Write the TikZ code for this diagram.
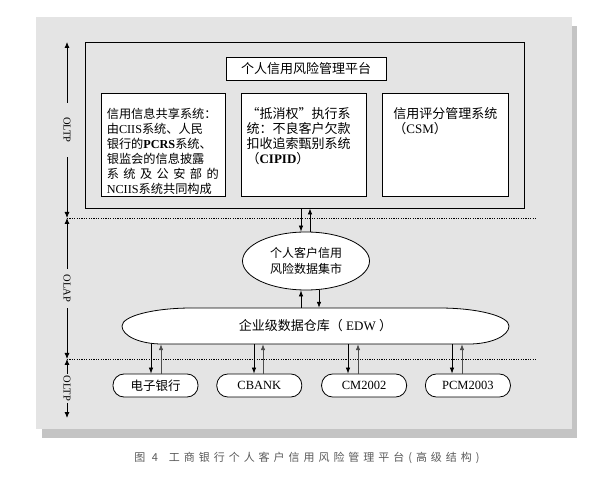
\documentclass[tikz,border=0pt]{standalone}
\usepackage{fontspec}
\setmainfont{Liberation Serif}
\newfontfamily\cjk{Noto Sans CJK SC}
\newfontfamily\capfont[LetterSpace=36]{Noto Sans CJK SC}
\newcommand{\zh}[1]{{\cjk #1}}
\usetikzlibrary{arrows.meta,positioning,shapes.geometric,calc}
\definecolor{panelgray}{HTML}{E4E4E4}
\definecolor{shadowgray}{HTML}{C4C4C4}

\begin{document}
\begin{tikzpicture}[x=1pt,y=1pt,
  font=\fontsize{13}{15}\selectfont,
  platbox/.style={draw,line width=0.9pt,minimum width=439pt,minimum height=166pt,inner sep=0pt},
  titlebox/.style={draw,fill=white,line width=0.8pt,minimum width=160pt,minimum height=23pt,inner sep=0pt},
  sysbox/.style={draw,fill=white,line width=0.8pt,minimum width=125pt,minimum height=103pt,inner sep=0pt},
  systext/.style={anchor=north west,align=left,inner sep=0pt},
  mart/.style={draw,fill=white,ellipse,line width=0.8pt,minimum width=127pt,minimum height=58pt,
               inner sep=0pt,align=center,font=\fontsize{12}{16}\selectfont},
  srcbox/.style={draw,fill=white,rounded corners=11pt,line width=0.8pt,minimum width=85pt,
                 minimum height=23pt,inner sep=0pt,font=\fontsize{12.5}{14}\selectfont},
  arr/.style={-{Latex[length=6pt,width=4.5pt]},line width=0.7pt},
  uparr/.style={arr,black!70},
  axarr/.style={{Latex[length=6pt,width=5pt]}-{Latex[length=6pt,width=5pt]},line width=0.8pt},
  axlabel/.style={fill=panelgray,rotate=-90,inner sep=2pt,font=\fontsize{10.5}{12}\selectfont},
  sep/.style={line width=0.6pt,dash pattern=on 1.2pt off 1.2pt},
]
\useasboundingbox (0,0) rectangle (591,479);

%% ===== Panel with shadow =====================================================
\fill[shadowgray] (42,41) rectangle (577,453);
\fill[panelgray] (36,50) rectangle (572,462);

%% ===== OLTP platform =========================================================
\node[platbox] (plat) at (304.5,354) {};
\node[titlebox] (title) at (306,410.5) {\zh{个人信用风险管理平台}};

\node[sysbox,minimum width=124pt] (share) at (163,334.5) {};
\node[sysbox,right=16pt of share] (cipid) {};
\node[sysbox,minimum width=126pt,right=15pt of cipid] (csm) {};

\node[systext,text width=112pt,font=\fontsize{12.2}{15}\selectfont] (share-t)
  at ([shift={(6,-15)}]share.north west) {%
  \zh{信用信息共享系统：}\\
  \zh{由}CIIS\zh{系统、人民}\\
  \zh{银行的}\textbf{PCRS}\zh{系统、}\\
  \zh{银监会的信息披露}\\
  \zh{系\hfill 统\hfill 及\hfill 公\hfill 安\hfill 部\hfill 的}\\
  NCIIS\zh{系统共同构成}};
\node[systext,text width=112pt] (cipid-t) at ([shift={(5,-15)}]cipid.north west) {%
  \zh{“抵消权”执行系}\\
  \zh{统：不良客户欠款}\\
  \zh{扣收追索甄别系统}\\
  \zh{（}\textbf{CIPID}\zh{）}};
\node[systext,text width=112pt] (csm-t) at ([shift={(11,-15)}]csm.north west) {%
  \zh{信用评分管理系统}\\
  \zh{（}CSM\zh{）}};

%% ===== Layer axis ============================================================
\coordinate (ax-top) at (67,437);
\coordinate (ax-olap) at (67,261);
\coordinate (ax-oltp) at (67,120);
\coordinate (ax-bot) at (67,61);
\coordinate (sep1-end) at (537,261);
\coordinate (sep2-end) at (537,120);

\draw[sep] (ax-olap) -- (sep1-end);
\draw[sep] (ax-oltp) -- (sep2-end);

\draw[axarr] (ax-top) -- node[axlabel,inner xsep=14pt]{OLTP} (ax-olap);
\draw[axarr] (ax-olap) -- node[axlabel,inner xsep=6pt]{OLAP} (ax-oltp);
\draw[axarr] (ax-oltp) -- node[axlabel,inner xsep=1.5pt]{OLTP} (ax-bot);

%% ===== Data mart and EDW =====================================================
\node[mart] (mart) at (306,218) {\zh{个人客户信用}\\\zh{风险数据集市}};

\draw[fill=white,line width=0.8pt] (192,171) -- (439,171)
  arc[start angle=90,end angle=0,x radius=70,y radius=18]
  arc[start angle=0,end angle=-90,x radius=40,y radius=18]
  -- (162,135)
  arc[start angle=270,end angle=180,x radius=40,y radius=18]
  arc[start angle=180,end angle=90,x radius=70,y radius=18] -- cycle;
\node[minimum width=387pt,minimum height=36pt,inner sep=0pt] (edw) at (315.5,153)
  {\zh{企业级数据仓库（} EDW \zh{）}};

%% ===== OLTP sources ==========================================================
\node[srcbox] (ebank) at (155.5,93.5) {\zh{电子银行}};
\node[srcbox,right=18pt of ebank] (cbank) {CBANK};
\node[srcbox,right=19pt of cbank] (cm) {CM2002};
\node[srcbox,right=18pt of cm] (pcm) {PCM2003};

%% ===== Data flow =============================================================
\draw[arr] (plat.south -| 301,0) -- (mart.north -| 301,0);
\draw[arr] (mart.north -| 310,0) -- (plat.south -| 310,0);
\draw[arr] (edw.north -| 301,0) -- (mart.south -| 301,0);
\draw[arr] (mart.south -| 319,0) -- (edw.north -| 319,0);

\foreach \src/\dn/\up in {ebank/151/161,cbank/254/263,cm/348/358,pcm/452/462}{
  \draw[arr] (edw.south -| \dn,0) -- (\src.north -| \dn,0);
  \draw[uparr] (\src.north -| \up,0) -- (edw.south -| \up,0);
}

%% ===== Caption ===============================================================
\node[font=\capfont\fontsize{11}{13}\selectfont,text=black!65] (cap) at (307,21)
  {图 4\quad 工商银行个人客户信用风险管理平台(高级结构)};

\end{tikzpicture}
\end{document}
